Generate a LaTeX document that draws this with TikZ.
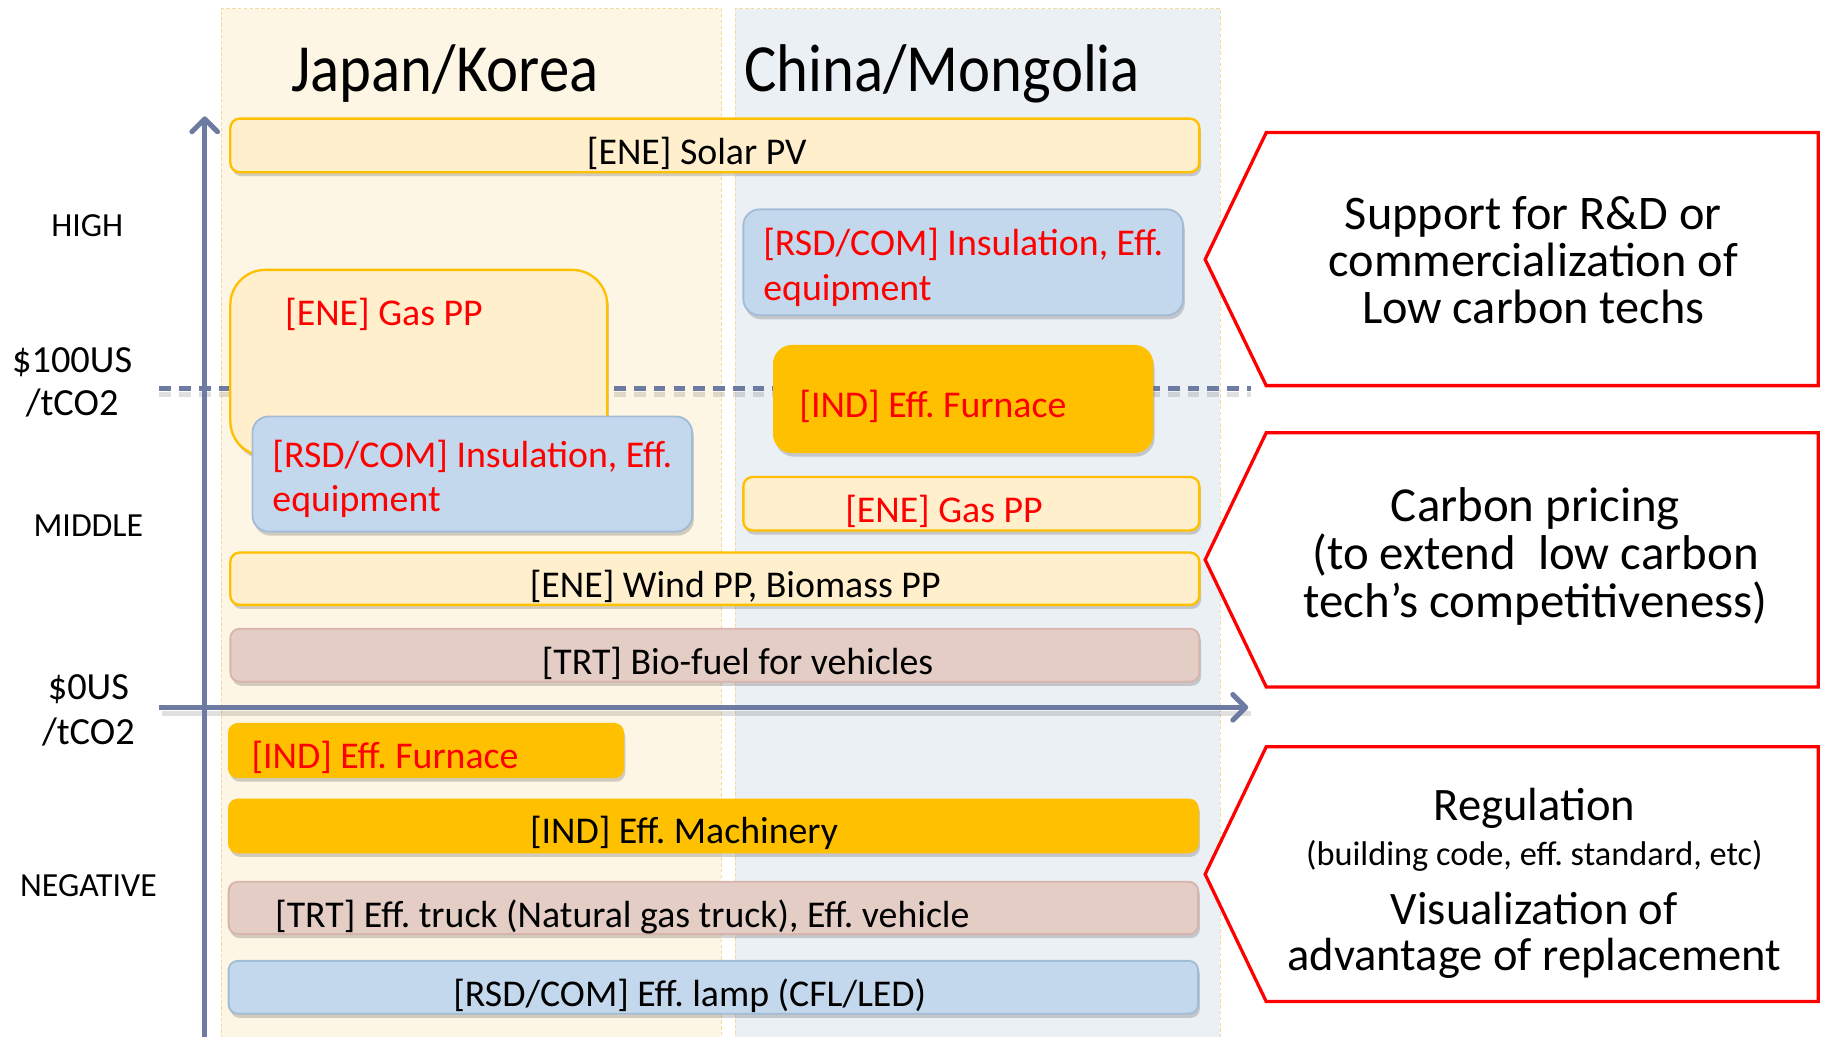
\documentclass[tikz,border=0pt]{standalone}
\usepackage{fontspec}
\setmainfont{Carlito}
\newfontfamily\titlefont[FakeStretch=0.9]{Carlito}
\usetikzlibrary{arrows.meta,shadows,fit}
\frenchspacing
\definecolor{colJK}{HTML}{FEF6E4}
\definecolor{colCM}{HTML}{EBF0F5}
\definecolor{colborder}{HTML}{F2DC9B}
\definecolor{cream}{HTML}{FFEFCC}
\definecolor{gold}{HTML}{FFC000}
\definecolor{blueF}{HTML}{C3D8EC}
\definecolor{blueD}{HTML}{A3BCD6}
\definecolor{pinkF}{HTML}{E3CDC5}
\definecolor{pinkD}{HTML}{D8B5AC}
\definecolor{axisc}{HTML}{6D7BA3}
\definecolor{redc}{HTML}{FF0000}
\tikzset{
  colbg/.style={draw=colborder, dash pattern=on 3pt off 2pt, line width=0.8pt, inner sep=0pt},
  shad/.style={drop shadow={shadow xshift=1.5pt, shadow yshift=-3.5pt, opacity=0.25, fill=black!70}},
  basebox/.style={inner sep=0pt, shad},
  creambox/.style={basebox, fill=cream, draw=gold, line width=2pt, rounded corners=8pt},
  goldbox/.style={basebox, fill=gold, draw=gold, line width=1pt, rounded corners=8pt},
  bluebox/.style={basebox, fill=blueF, draw=blueD, line width=1.6pt, rounded corners=14pt},
  pinkbox/.style={basebox, fill=pinkF, draw=pinkD, line width=1.6pt, rounded corners=8pt},
  axisline/.style={draw=axisc, line width=4.4pt},
  dashline/.style={draw=axisc, line width=4.5pt, dash pattern=on 10pt off 7pt},
  callout/.style={draw=redc, line width=2.8pt, line join=miter, fill=white},
  txt/.style={inner sep=0pt, anchor=base},
  boxtxt/.style={txt, font=\fontsize{32.5pt}{38.5pt}\selectfont},
  redtxt/.style={boxtxt, text=redc},
  titletxt/.style={txt, font=\titlefont\fontsize{58pt}{60pt}\selectfont},
  lblS/.style={txt, font=\fontsize{29pt}{32pt}\selectfont},
  lblL/.style={txt, font=\fontsize{33pt}{37pt}\selectfont},
  callA/.style={txt, align=center, font=\fontsize{41.5pt}{40.5pt}\selectfont},
  callB/.style={txt, align=center, font=\fontsize{42pt}{41pt}\selectfont},
  callC/.style={txt, align=center, font=\fontsize{40pt}{39.5pt}\selectfont},
  callCs/.style={txt, font=\fontsize{29.5pt}{34pt}\selectfont},
}
\begin{document}
\lineskiplimit=-100pt\relax
\begin{tikzpicture}[x=1pt,y=-1pt]
\useasboundingbox (0,0) rectangle (1568,891);
\fill[white] (0,0) rectangle (1568,891);
% columns
\node[colbg, fill=colJK, fit={(190,7.5) (620,900)}] (colJK) {};
\node[colbg, fill=colCM, fit={(632,7.5) (1049,900)}] (colCM) {};
\node[titletxt] (tJK) at (382.5,79) {Japan/Korea};
\node[titletxt] (tCM) at (810,79) {China/Mongolia};
% dashed $100 line
\coordinate (dL) at (137,334);
\coordinate (dR) at (1075,334);
\draw[dashline, draw=black, opacity=0.12] ([yshift=-5pt]dL) -- ([yshift=-5pt]dR);
\draw[dashline] (dL) -- (dR);
% axes
\coordinate (vB) at (176,895);
\coordinate (vT) at (176,100);
\coordinate (hL) at (137,608);
\coordinate (hR) at (1073,608);
\draw[axisline, draw=black, opacity=0.12] ([xshift=2pt,yshift=-5pt]hL) -- ([xshift=2pt,yshift=-5pt]hR);
\draw[axisline, -{Straight Barb[round,length=11pt,width=22pt]}] (vB) -- (vT);
\draw[axisline, -{Straight Barb[round,length=11pt,width=22pt]}] (hL) -- (hR);
% left labels
\node[lblS] (high) at (75,203) {HIGH};
\node[lblL, align=center] (p100) at (62,357) {\$100US\\/tCO2};
\node[lblS] (mid) at (76,461) {MIDDLE};
\node[lblL, align=center] (p0) at (76,640) {\$0US\\[2pt]/tCO2};
\node[lblS] (neg) at (76,771) {NEGATIVE};
% boxes
\node[creambox, fit={(198,102) (1031,148)}] (solar) {};
\node[boxtxt] (solarT) at (599,141) {[ENE] Solar PV};
\node[creambox, rounded corners=30pt, fit={(198,232) (522,392)}] (gasJK) {};
\node[redtxt, anchor=base west] (gasJKT) at (245,280) {[ENE] Gas PP};
\node[bluebox, fit={(217,358) (595,457)}] (rsdJK) {};
\node[redtxt, anchor=base west, align=left] (rsdJKT) at (234,440) {[RSD/COM] Insulation, Eff.\\equipment};
\node[bluebox, fit={(639,180) (1017,271)}] (rsdCM) {};
\node[redtxt, anchor=base west, align=left] (rsdCMT) at (656,258) {[RSD/COM] Insulation, Eff.\\equipment};
\node[goldbox, rounded corners=16pt, fit={(665,297) (991,389)}] (indCM) {};
\node[redtxt, anchor=base west] (indCMT) at (687,358.5) {[IND] Eff. Furnace};
\node[creambox, fit={(639,410) (1031,456)}] (gasCM) {};
\node[redtxt] (gasCMT) at (811.5,449.5) {[ENE] Gas PP};
\node[creambox, fit={(198,475) (1031,520)}] (wind) {};
\node[boxtxt] (windT) at (632,514) {[ENE] Wind PP, Biomass PP};
\node[pinkbox, fit={(198,540.5) (1031,586)}] (bio) {};
\node[boxtxt] (bioT) at (634,579.5) {[TRT] Bio-fuel for vehicles};
\node[goldbox, fit={(196.5,622) (536,668.5)}] (indJK) {};
\node[redtxt, anchor=base west] (indJKT) at (216,661) {[IND] Eff. Furnace};
\node[goldbox, fit={(196.5,687) (1030,733)}] (mach) {};
\node[boxtxt] (machT) at (588,725.5) {[IND] Eff. Machinery};
\node[pinkbox, fit={(196.5,758) (1030,803)}] (truck) {};
\node[boxtxt] (truckT) at (535,797.5) {[TRT] Eff. truck (Natural gas truck), Eff. vehicle};
\node[bluebox, rounded corners=8pt, fit={(196.5,826) (1030,871.5)}] (lamp) {};
\node[boxtxt] (lampT) at (593,865) {[RSD/COM] Eff. lamp (CFL/LED)};
% callouts
\draw[callout] (1036,223) -- (1088.5,114) -- (1563,114) -- (1563,331.5) -- (1088.5,331.5) -- cycle;
\node[callA] (cA) at (1318,278) {Support for R\&D or\\commercialization of\\Low carbon techs};
\draw[callout] (1036,481.2) -- (1088.5,372) -- (1563,372) -- (1563,590.5) -- (1088.5,590.5) -- cycle;
\node[callB] (cB) at (1320,530.5) {Carbon pricing\\(to extend~ low carbon\\tech’s competitiveness)};
\draw[callout] (1036,751.5) -- (1088.5,642) -- (1563,642) -- (1563,861) -- (1088.5,861) -- cycle;
\node[callC] (cC1) at (1319,705.5) {Regulation};
\node[callCs] (cC2) at (1319,744) {(building code, eff. standard, etc)};
\node[callC] (cC3) at (1319,834) {Visualization of\\advantage of replacement};
\end{tikzpicture}
\end{document}
